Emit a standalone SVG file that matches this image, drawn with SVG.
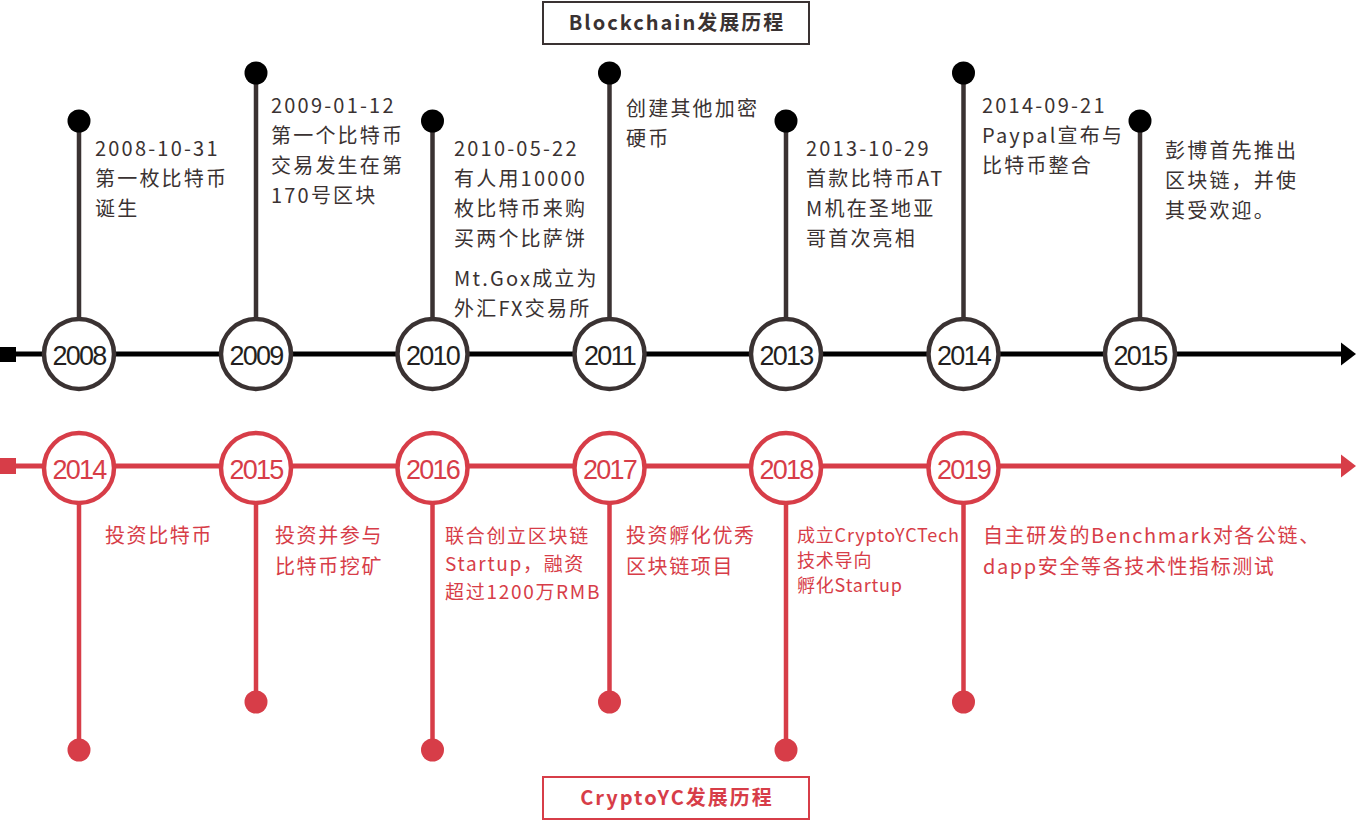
<svg xmlns="http://www.w3.org/2000/svg" width="1356" height="821" viewBox="0 0 1356 821">
<defs>
<style>
.bg{fill:#ffffff}
.axisK{stroke:#000000;stroke-width:5;fill:none}
.axisR{stroke:#d73d48;stroke-width:5;fill:none}
.stemK{stroke:#3a3232;stroke-width:4.5;fill:none}
.stemR{stroke:#d73d48;stroke-width:4.5;fill:none}
.dotK{fill:#000000}
.dotR{fill:#d73d48}
.ringK{fill:#ffffff;stroke:#3a3232;stroke-width:4.5}
.ringR{fill:#ffffff;stroke:#d73d48;stroke-width:4.5}
.yearK{font-family:"Liberation Sans",Arial,sans-serif;font-size:27px;letter-spacing:-1.8px;fill:#231f20;text-anchor:middle}
.yearR{font-family:"Liberation Sans",Arial,sans-serif;font-size:27px;letter-spacing:-1.8px;fill:#d73d48;text-anchor:middle}
.tK{font-family:"Noto Sans CJK SC","Noto Sans",sans-serif;font-size:20px;letter-spacing:2.2px;fill:#3a3232}
.tR{font-family:"Noto Sans CJK SC","Noto Sans",sans-serif;font-size:20px;letter-spacing:1.6px;fill:#d73d48}
.tRs{font-family:"Noto Sans CJK SC","Noto Sans",sans-serif;font-size:19px;letter-spacing:1.7px;fill:#d73d48}
.tRxs{font-family:"Noto Sans CJK SC","Noto Sans",sans-serif;font-size:18px;letter-spacing:0.8px;fill:#d73d48}
.titleK{font-family:"Noto Sans CJK SC","Noto Sans",sans-serif;font-size:20px;font-weight:bold;letter-spacing:2px;fill:#3a3232;text-anchor:middle}
.titleR{font-family:"Noto Sans CJK SC","Noto Sans",sans-serif;font-size:20px;font-weight:bold;letter-spacing:2px;fill:#d73d48;text-anchor:middle}
.boxK{fill:#ffffff;stroke:#3a3232;stroke-width:2}
.boxR{fill:#ffffff;stroke:#d73d48;stroke-width:2}
</style>
</defs>
<rect class="bg" x="0" y="0" width="1356" height="821"/>

<g id="connectors">
  <rect x="0" y="347" width="16" height="15" fill="#000000"/>
  <line class="axisK" x1="14" y1="354" x2="1342" y2="354"/>
  <polygon points="1341,342.5 1356,354 1341,365.5" fill="#000000"/>
  <rect x="0" y="458" width="16" height="16" fill="#d73d48"/>
  <line class="axisR" x1="14" y1="466" x2="1342" y2="466"/>
  <polygon points="1341,454.5 1356,466 1341,477.5" fill="#d73d48"/>
</g>

<g id="title-blockchain">
  <rect class="boxK" x="543" y="2" width="266" height="42"/>
  <text class="titleK" x="677" y="30">Blockchain发展历程</text>
</g>

<g id="title-cryptoyc">
  <rect class="boxR" x="543" y="777" width="266" height="42"/>
  <text class="titleR" x="677" y="805">CryptoYC发展历程</text>
</g>

<g id="bc-2008">
  <line class="stemK" x1="79" y1="121" x2="79" y2="320"/>
  <circle class="dotK" cx="79" cy="121" r="11.5"/>
  <circle class="ringK" cx="79" cy="354" r="35"/>
  <text class="yearK" x="79" y="365">2008</text>
  <text class="tK" x="95" y="156">2008-10-31</text>
  <text class="tK" x="95" y="186">第一枚比特币</text>
  <text class="tK" x="95" y="216">诞生</text>
</g>

<g id="bc-2009">
  <line class="stemK" x1="256" y1="73" x2="256" y2="320"/>
  <circle class="dotK" cx="256" cy="73" r="11.5"/>
  <circle class="ringK" cx="256" cy="354" r="35"/>
  <text class="yearK" x="256" y="365">2009</text>
  <text class="tK" x="271" y="113">2009-01-12</text>
  <text class="tK" x="271" y="143">第一个比特币</text>
  <text class="tK" x="271" y="173">交易发生在第</text>
  <text class="tK" x="271" y="203">170号区块</text>
</g>

<g id="bc-2010">
  <line class="stemK" x1="432.5" y1="121" x2="432.5" y2="320"/>
  <circle class="dotK" cx="432.5" cy="121" r="11.5"/>
  <circle class="ringK" cx="432.5" cy="354" r="35"/>
  <text class="yearK" x="432.5" y="365">2010</text>
  <text class="tK" x="454" y="156">2010-05-22</text>
  <text class="tK" x="454" y="186">有人用10000</text>
  <text class="tK" x="454" y="216">枚比特币来购</text>
  <text class="tK" x="454" y="246">买两个比萨饼</text>
  <text class="tK" x="454" y="286">Mt.Gox成立为</text>
  <text class="tK" x="454" y="316">外汇FX交易所</text>
</g>

<g id="bc-2011">
  <line class="stemK" x1="609.5" y1="73" x2="609.5" y2="320"/>
  <circle class="dotK" cx="609.5" cy="73" r="11.5"/>
  <circle class="ringK" cx="609.5" cy="354" r="35"/>
  <text class="yearK" x="609.5" y="365">2011</text>
  <text class="tK" x="626" y="116">创建其他加密</text>
  <text class="tK" x="626" y="146">硬币</text>
</g>

<g id="bc-2013">
  <line class="stemK" x1="786" y1="121" x2="786" y2="320"/>
  <circle class="dotK" cx="786" cy="121" r="11.5"/>
  <circle class="ringK" cx="786" cy="354" r="35"/>
  <text class="yearK" x="786" y="365">2013</text>
  <text class="tK" x="806" y="156">2013-10-29</text>
  <text class="tK" x="806" y="186">首款比特币AT</text>
  <text class="tK" x="806" y="216">M机在圣地亚</text>
  <text class="tK" x="806" y="246">哥首次亮相</text>
</g>

<g id="bc-2014">
  <line class="stemK" x1="963.5" y1="73" x2="963.5" y2="320"/>
  <circle class="dotK" cx="963.5" cy="73" r="11.5"/>
  <circle class="ringK" cx="963.5" cy="354" r="35"/>
  <text class="yearK" x="963.5" y="365">2014</text>
  <text class="tK" x="982" y="113">2014-09-21</text>
  <text class="tK" x="982" y="143">Paypal宣布与</text>
  <text class="tK" x="982" y="173">比特币整合</text>
</g>

<g id="bc-2015">
  <line class="stemK" x1="1140" y1="121" x2="1140" y2="320"/>
  <circle class="dotK" cx="1140" cy="121" r="11.5"/>
  <circle class="ringK" cx="1140" cy="354" r="35"/>
  <text class="yearK" x="1140" y="365">2015</text>
  <text class="tK" x="1165" y="158">彭博首先推出</text>
  <text class="tK" x="1165" y="188">区块链，并使</text>
  <text class="tK" x="1165" y="218">其受欢迎。</text>
</g>

<g id="cy-2014">
  <line class="stemR" x1="79" y1="500" x2="79" y2="750"/>
  <circle class="dotR" cx="79" cy="750" r="11.5"/>
  <circle class="ringR" cx="79" cy="468" r="35"/>
  <text class="yearR" x="79" y="479">2014</text>
  <text class="tR" x="105" y="543">投资比特币</text>
</g>

<g id="cy-2015">
  <line class="stemR" x1="256" y1="500" x2="256" y2="702"/>
  <circle class="dotR" cx="256" cy="702" r="11.5"/>
  <circle class="ringR" cx="256" cy="468" r="35"/>
  <text class="yearR" x="256" y="479">2015</text>
  <text class="tR" x="275" y="543">投资并参与</text>
  <text class="tR" x="275" y="574">比特币挖矿</text>
</g>

<g id="cy-2016">
  <line class="stemR" x1="432.5" y1="500" x2="432.5" y2="750"/>
  <circle class="dotR" cx="432.5" cy="750" r="11.5"/>
  <circle class="ringR" cx="432.5" cy="468" r="35"/>
  <text class="yearR" x="432.5" y="479">2016</text>
  <text class="tRs" x="445" y="543">联合创立区块链</text>
  <text class="tRs" x="445" y="571">Startup，融资</text>
  <text class="tRs" x="445" y="599">超过1200万RMB</text>
</g>

<g id="cy-2017">
  <line class="stemR" x1="609.5" y1="500" x2="609.5" y2="702"/>
  <circle class="dotR" cx="609.5" cy="702" r="11.5"/>
  <circle class="ringR" cx="609.5" cy="468" r="35"/>
  <text class="yearR" x="609.5" y="479">2017</text>
  <text class="tR" x="626" y="543">投资孵化优秀</text>
  <text class="tR" x="626" y="574">区块链项目</text>
</g>

<g id="cy-2018">
  <line class="stemR" x1="786" y1="500" x2="786" y2="750"/>
  <circle class="dotR" cx="786" cy="750" r="11.5"/>
  <circle class="ringR" cx="786" cy="468" r="35"/>
  <text class="yearR" x="786" y="479">2018</text>
  <text class="tRxs" x="797" y="542">成立CryptoYCTech</text>
  <text class="tRxs" x="797" y="567">技术导向</text>
  <text class="tRxs" x="797" y="592">孵化Startup</text>
</g>

<g id="cy-2019">
  <line class="stemR" x1="963.5" y1="500" x2="963.5" y2="702"/>
  <circle class="dotR" cx="963.5" cy="702" r="11.5"/>
  <circle class="ringR" cx="963.5" cy="468" r="35"/>
  <text class="yearR" x="963.5" y="479">2019</text>
  <text class="tR" x="983" y="543">自主研发的Benchmark对各公链、</text>
  <text class="tR" x="983" y="574">dapp安全等各技术性指标测试</text>
</g>
</svg>
